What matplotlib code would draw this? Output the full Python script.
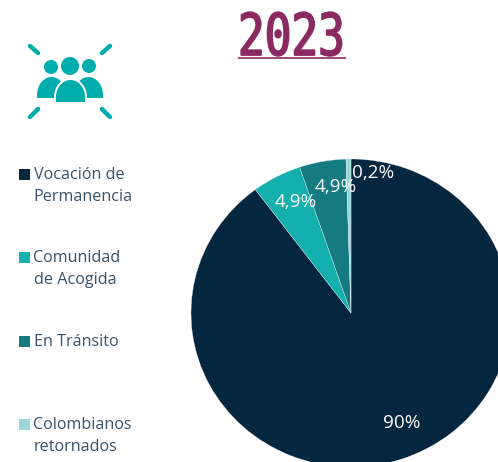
import matplotlib
matplotlib.use('Agg')
import matplotlib.pyplot as plt
from matplotlib.patches import Circle, PathPatch, Rectangle
from matplotlib.path import Path
from matplotlib.patheffects import AbstractPathEffect
from matplotlib.transforms import Affine2D

categories = ['Vocación de\nPermanencia', 'Comunidad\nde Acogida', 'En Tránsito', 'Colombianos\nretornados']
values = [89.8, 5.0, 4.7, 0.5]
value_labels = ['90%', '4,9%', '4,9%', '0,2%']
colors = ['#05263F', '#13B0AE', '#167A82', '#9BD7D9']
title = '2023'

W, H = 498, 462
ICON = '#00ADAD'
PURPLE = '#8B2A62'
TEXT = '#3A5268'

plt.rcParams['font.family'] = ['Open Sans', 'DejaVu Sans']


class Squeeze(AbstractPathEffect):
    """Narrows text horizontally around a display x, no condensed font is installed."""

    def __init__(self, cx, sx, width):
        super().__init__()
        self.cx, self.sx, self.width = cx, sx, width

    def draw_path(self, renderer, gc, tpath, affine, rgbFace=None):
        gc0 = renderer.new_gc()
        gc0.copy_properties(gc)
        gc0.set_linewidth(self.width)
        gc0.set_foreground(rgbFace)
        gc0.set_joinstyle('round')
        squeeze = Affine2D().translate(-self.cx, 0).scale(self.sx, 1).translate(self.cx, 0)
        renderer.draw_path(gc0, tpath, affine + squeeze, rgbFace)
        gc0.restore()


def dome(x0, x1, top, bottom, shoulder):
    """Closed shape with a rounded top and a flat bottom, in pixel coordinates."""
    mid = (x0 + x1) / 2
    k = (x1 - x0) / 2 * 0.55
    verts = [(x0, bottom), (x0, shoulder),
             (x0, shoulder - (shoulder - top) * 0.55), (mid - k, top), (mid, top),
             (mid + k, top), (x1, shoulder - (shoulder - top) * 0.55), (x1, shoulder),
             (x1, bottom), (x0, bottom)]
    codes = [Path.MOVETO, Path.LINETO, Path.CURVE4, Path.CURVE4, Path.CURVE4,
             Path.CURVE4, Path.CURVE4, Path.CURVE4, Path.LINETO, Path.CLOSEPOLY]
    return Path(verts, codes)


fig = plt.figure(figsize=(W / 100, H / 100), dpi=100)

# pie is slightly wider than tall in the reference and runs past the edges
ax = fig.add_axes([191 / W, (H - 313 - 154) / H, 320 / W, 308 / H])
ax.pie(values, colors=colors, startangle=90, counterclock=False, radius=1,
       wedgeprops={'edgecolor': 'white', 'linewidth': 0.2})
ax.set_aspect('auto')
ax.set_xlim(-1, 1)
ax.set_ylim(-1, 1)

# overlay in pixel coordinates for text and icon
top = fig.add_axes([0, 0, 1, 1])
top.set_xlim(0, W)
top.set_ylim(H, 0)
top.axis('off')
top.patch.set_alpha(0)

label_pos = [(402, 423), (296, 202), (336, 187), (373, 173)]
for (x, y), s in zip(label_pos, value_labels):
    top.text(x, y, s, color='white', fontsize=13.6, ha='center', va='center')

legend_y = [169, 252, 336, 419]
for y, c, s in zip(legend_y, colors, categories):
    top.add_patch(Rectangle((19, y), 11, 10.5, facecolor=c, edgecolor='none'))
    top.text(33.5, y - 2, s, color=TEXT, fontsize=11.6, ha='left', va='top', linespacing=1.5)

# title
t = top.text(291.5, 55, title, color=PURPLE, fontsize=41.5, ha='center', va='baseline',
             family=['DejaVu Sans Mono', 'DejaVu Sans'])
t.set_path_effects([Squeeze(291.5, 0.77, 1.3)])
top.plot([238, 346], [57.5, 57.5], color=PURPLE, lw=1.2, solid_capstyle='butt')

# people icon
for x0, y0, x1, y1 in [(30, 46, 38, 53), (110, 46, 102, 53), (38, 109, 30, 117), (102, 109, 110, 117)]:
    top.plot([x0, x1], [y0, y1], color=ICON, lw=3.2, solid_capstyle='round')
for x, y, r in [(51, 67, 7), (70, 66, 9), (89, 66, 7)]:
    top.add_patch(Circle((x, y), r, facecolor=ICON, edgecolor='none'))
top.add_patch(PathPatch(dome(37, 66, 77, 98, 95), facecolor=ICON, edgecolor='none'))
top.add_patch(PathPatch(dome(74, 103, 77, 98, 95), facecolor=ICON, edgecolor='none'))
top.add_patch(PathPatch(dome(55, 86, 79, 103, 97), facecolor=ICON, edgecolor='white', lw=1.4))

fig.savefig('out.png', dpi=100)
